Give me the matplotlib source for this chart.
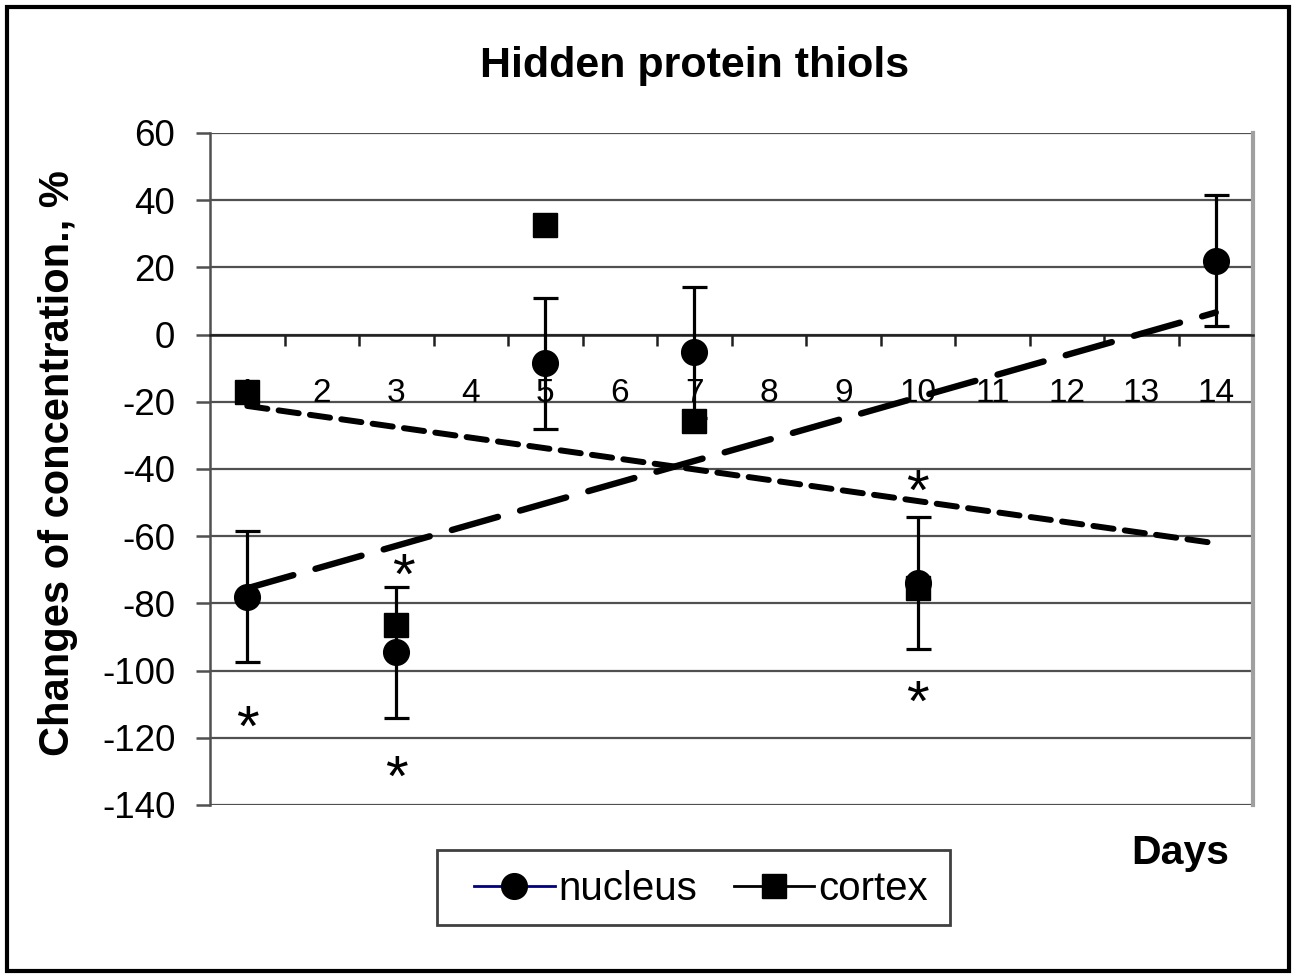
import matplotlib
matplotlib.use("Agg")
import matplotlib.pyplot as plt
from matplotlib.patches import Rectangle
import matplotlib.transforms as mtransforms
import numpy as np

plt.rcParams['font.family'] = ['Liberation Sans', 'DejaVu Sans']
plt.rcParams['axes.unicode_minus'] = False

days = list(range(1, 15))
nucleus_days = [1, 3, 5, 7, 10, 14]
nucleus = [-78, -94.5, -8.5, -5.3, -74, 22]
nucleus_err = [19.5, 19.5, 19.5, 19.5, 19.6, 19.4]
cortex_days = [1, 3, 5, 7, 10]
cortex = [-17, -86.5, 32.5, -25.7, -75.5]
star_x = [1, 3.1, 3, 10, 10]
star_y = [-113.8, -68.6, -128.7, -43.6, -106.4]
yticks = list(range(-140, 61, 20))

fig = plt.figure(figsize=(12.92, 9.75), dpi=100)
ax = fig.add_axes([210/1292, 1-805/975, (1253-210)/1292, (805-133)/975])
ax.set_xlim(0.5, 14.5)
ax.set_ylim(-140, 60)
ax.set_axisbelow(True)

# grid + frame
for y in yticks:
    ax.axhline(y, color='#505050', lw=1.6, zorder=0.3)
ax.spines['left'].set_color('#505050')
ax.spines['left'].set_linewidth(1.8)
ax.spines['right'].set_color('#a0a0a0')
ax.spines['right'].set_linewidth(3)
ax.spines['top'].set_visible(False)
ax.spines['bottom'].set_position(('data', 0))
ax.spines['bottom'].set_color('#202020')
ax.spines['bottom'].set_linewidth(1.8)

ax.set_yticks(yticks)
ax.set_yticklabels([str(v) for v in yticks])
ax.tick_params(axis='y', direction='out', length=10, width=1.8, color='#505050',
               labelsize=26.5, pad=15)

ax.set_xticks(days)
ax.set_xticklabels([str(d) for d in days])
ax.set_xticks([d + 0.5 for d in days[:-1]], minor=True)
ax.tick_params(axis='x', which='major', length=0, labelsize=24, pad=31)
ax.tick_params(axis='x', which='minor', direction='out', length=8, width=1.8,
               color='#202020')

# trend lines
pn = np.polyfit(nucleus_days, nucleus, 1)
pc = np.polyfit(cortex_days, cortex, 1)
tx = np.array([days[0], days[-1]])
ax.plot(tx, np.polyval(pn, tx), color='black', lw=4.6, dashes=(7.5, 3.6),
        dash_capstyle='round', zorder=3)
ax.plot(tx, np.polyval(pc, tx), color='black', lw=4.3, dashes=(3.4, 1.9),
        dash_capstyle='round', zorder=3)

# data
ax.errorbar(nucleus_days, nucleus, yerr=nucleus_err, fmt='o', color='black',
            ms=18.5, elinewidth=2.3, capsize=9, capthick=2.3, zorder=4)
ax.plot(cortex_days, cortex, 's', color='black', ms=17, zorder=4)

star_tr = mtransforms.offset_copy(ax.transData, fig=fig, x=0, y=-14, units='dots')
for x, y in zip(star_x, star_y):
    ax.text(x, y, '*', ha='center', va='center', fontsize=42, transform=star_tr,
            zorder=5)

# texts
fig.text(695/1292, 1-66/975, 'Hidden protein thiols', ha='center', va='center',
         fontsize=31, fontweight='bold')
fig.text(58/1292, 1-463/975, 'Changes of concentration., %', ha='center', va='center',
         rotation=90, fontsize=30, fontweight='bold')
fig.text(1180/1292, 1-853/975, 'Days', ha='center', va='center',
         fontsize=29.5, fontweight='bold')

h1, = ax.plot([], [], '-o', color='#000080', mfc='black', mec='black', ms=18.5, lw=2)
h2, = ax.plot([], [], '-s', color='black', ms=17, lw=2)
leg = fig.legend([h1, h2], ['nucleus', 'cortex'], loc='center',
                 bbox_to_anchor=(701/1292, 1-889/975), ncol=2, fontsize=29,
                 frameon=False, handlelength=2.0, handletextpad=0.1,
                 columnspacing=0.9)
fig.patches.append(Rectangle((437/1292, 1-925/975), (950-437)/1292, 75/975,
                             transform=fig.transFigure, fill=False,
                             edgecolor='#404040', lw=2))

fig.patches.append(Rectangle((7/1292, 4/975), 1282/1292, 964/975, transform=fig.transFigure,
                             fill=False, edgecolor='black', lw=3))

fig.savefig('out.png', dpi=100)
